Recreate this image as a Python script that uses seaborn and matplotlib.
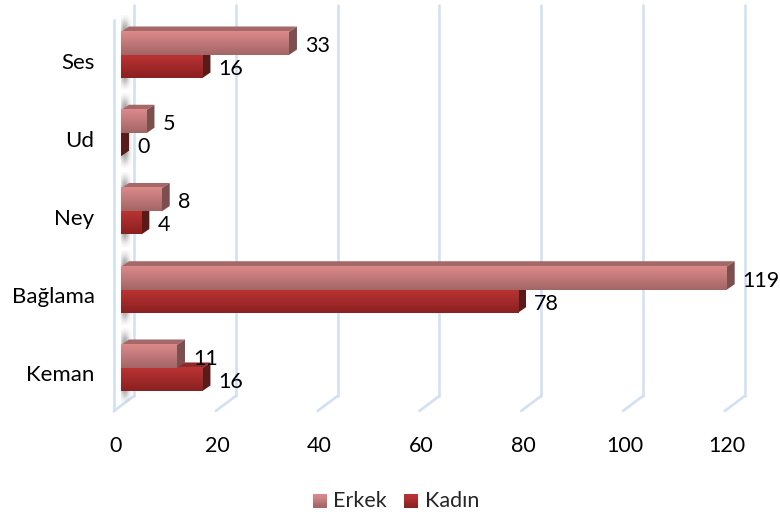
import numpy as np
import pandas as pd
import matplotlib
matplotlib.use('Agg')
import matplotlib.pyplot as plt
from matplotlib.colors import LinearSegmentedColormap
from matplotlib.patches import Polygon, Patch, Rectangle
from matplotlib.legend_handler import HandlerBase
from matplotlib.transforms import ScaledTranslation
import seaborn as sns

# data
categories = ['Ses', 'Ud', 'Ney', 'Bağlama', 'Keman']
erkek = [33, 5, 8, 119, 11]
kadin = [16, 0, 4, 78, 16]
x_ticks = [0, 20, 40, 60, 80, 100, 120]

# colours per series: top of front face, bottom of front face, top face, side face
renk = {
    'Erkek': ('#dc8a8a', '#a36565', '#a56868', '#7c4f4f'),
    'Kadın': ('#bb3433', '#8a2020', '#8e2b2a', '#5a1a19'),
}

sns.set_theme(style='white')
plt.rcParams['font.family'] = ['Lato', 'DejaVu Sans']

W, H = 780, 512
fig = plt.figure(figsize=(W / 100, H / 100), dpi=100)
# axes from first bar start (x=121) to bottom of floor (y=411)
ax = fig.add_axes([121 / W, (H - 411) / H, 651.5 / W, 411 / H])

df = pd.DataFrame({
    'enstruman': categories * 2,
    'sayi': erkek + kadin,
    'cinsiyet': ['Erkek'] * 5 + ['Kadın'] * 5,
})
sns.barplot(data=df, x='sayi', y='enstruman', hue='cinsiyet', order=categories,
            hue_order=['Erkek', 'Kadın'], orient='h', width=0.588, legend=False,
            palette={k: v[0] for k, v in renk.items()}, ax=ax, saturation=1, zorder=3)

xlim = (0, 128)
ylim = (4.55, -0.703)
ax.set_xlim(xlim)
ax.set_ylim(ylim)
px_x = 651.5 / 128            # pixels per unit on x
px_y = 78.25                  # pixels per category on y
dx_bar, dy_bar = 8 / px_x, -5.5 / px_y

# back wall + floor grid lines
grid_renk = '#d2e0f3'
top_y = -0.703 + 5 / px_y
back_y = -0.703 + 396 / px_y
for t in x_ticks:
    bx = t + 13 / px_x
    ax.plot([bx, bx], [top_y, back_y], color=grid_renk, lw=1.9, zorder=1, clip_on=False)
    ax.plot([bx, bx - 20 / px_x], [back_y, back_y + 15 / px_y], color=grid_renk, lw=1.9,
            zorder=1, clip_on=False)
# left wall
wall_x = -7 / px_x
ax.plot([wall_x, wall_x], [-0.703 + 20 / px_y, back_y + 15 / px_y], color=grid_renk, lw=1.9,
        zorder=1, clip_on=False)

# grey smudge on the wall behind each group
for i in range(len(categories)):
    yy = np.linspace(-1, 1, 60)[:, None]
    xx = np.linspace(0, 1, 20)[None, :]
    a = np.exp(-(yy / 0.85) ** 6) * np.exp(-((xx - 0.35) / 0.4) ** 2) * 0.7
    img = np.zeros((60, 20, 4))
    img[..., :3] = 0.4
    img[..., 3] = a
    ax.imshow(img, extent=(0, 11 / px_x, i + 0.45, i - 0.5), aspect='auto', zorder=2,
              interpolation='bilinear')

# 3D look on each bar, Kadın first so Erkek sits over it
gradyan = np.linspace(0, 1, 64)[:, None]
for cont, ad in reversed(list(zip(ax.containers, ['Erkek', 'Kadın']))):
    ust, alt, tepe, yan = renk[ad]
    z = 3 if ad == 'Kadın' else 4
    cmap = LinearSegmentedColormap.from_list(ad, [ust, alt])
    for bar in cont:
        bar.set_zorder(z)
        bar.set_edgecolor('none')
        v = bar.get_width()
        y0, y1 = bar.get_y(), bar.get_y() + bar.get_height()
        # top face
        ax.add_patch(Polygon([(0, y0), (v, y0), (v + dx_bar, y0 + dy_bar), (dx_bar, y0 + dy_bar)],
                             facecolor=tepe, edgecolor='none', zorder=z))
        # side face
        ax.add_patch(Polygon([(v, y0), (v + dx_bar, y0 + dy_bar), (v + dx_bar, y1 + dy_bar), (v, y1)],
                             facecolor=yan, edgecolor='none', zorder=z))
        if v > 0:
            ax.imshow(gradyan, cmap=cmap, extent=(0, v, y1, y0), aspect='auto', zorder=z + 0.1,
                      interpolation='bilinear')
        ax.annotate(str(int(v)), (v, (y0 + y1) / 2), xytext=(16 * 0.72, -2.5 * 0.72),
                    textcoords='offset points', ha='left', va='center', fontsize=15.5,
                    color='black', zorder=6, annotation_clip=False)

ax.set_xlim(xlim)
ax.set_ylim(ylim)
ax.set_xlabel('')
ax.set_ylabel('')
ax.set_xticks(x_ticks)
ax.set_xticklabels([str(t) for t in x_ticks])
ax.tick_params(axis='x', length=0, pad=18, labelsize=15.5, colors='black')
ax.tick_params(axis='y', length=0, pad=19, labelsize=16, colors='black')
ax.set_facecolor('none')
sns.despine(ax=ax, left=True, bottom=True)

# tick labels sit a bit off the plot plane
for lab in ax.get_xticklabels():
    lab.set_transform(lab.get_transform() + ScaledTranslation(-5 / 100, 0, fig.dpi_scale_trans))
for lab in ax.get_yticklabels():
    lab.set_transform(lab.get_transform() + ScaledTranslation(0, -5.5 / 100, fig.dpi_scale_trans))


class GradyanHandler(HandlerBase):
    def create_artists(self, legend, orig, x0, y0, w, h, fontsize, trans):
        ust, alt = orig.gradyan
        cmap = LinearSegmentedColormap.from_list('l', [alt, ust])
        n = 12
        return [Rectangle((x0, y0 + h * i / n), w, h / n + 0.2, facecolor=cmap(i / (n - 1)),
                          edgecolor='none', transform=trans) for i in range(n)]


handles = []
for ad in ['Erkek', 'Kadın']:
    p = Patch(label=ad)
    p.gradyan = renk[ad][:2]
    handles.append(p)
fig.legend(handles=handles, handler_map={Patch: GradyanHandler()}, loc='center',
           bbox_to_anchor=(396 / W, (H - 501) / H), ncol=2, frameon=False, fontsize=15.5,
           handlelength=0.65, handleheight=0.6, handletextpad=0.3, columnspacing=0.8)

fig.savefig('out.png', dpi=100)
